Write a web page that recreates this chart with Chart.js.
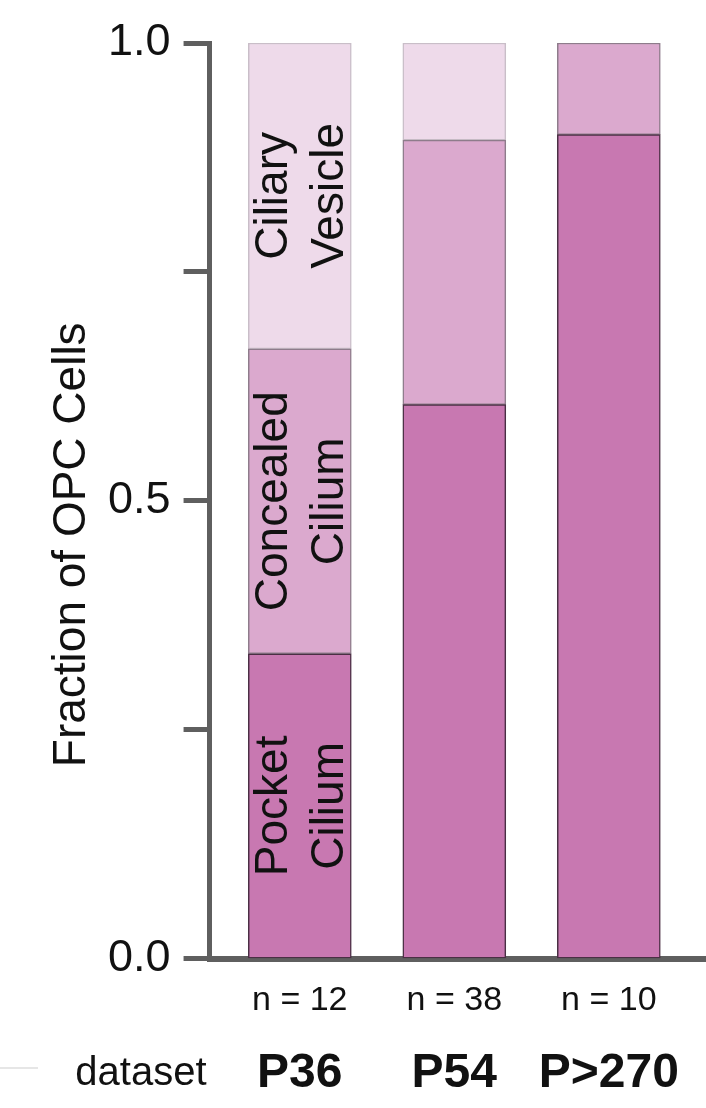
<!DOCTYPE html>
<html lang="en">
  <head>
    <meta charset="UTF-8" />
    <meta name="viewport" content="width=device-width, initial-scale=1.0" />
    <script src="https://cdn.jsdelivr.net/npm/chart.js@4.4.1/dist/chart.umd.min.js"></script>
    <title>Fraction of OPC Cells</title>
    <style>
      body {
        margin: 0;
        background: #fff;
      }
      .canvas-container {
        position: relative;
        width: 706px;
        height: 1108px;
      }
      .stub {
        position: absolute;
        left: 0;
        top: 1067px;
        width: 38px;
        border-top: 2px solid #e6e6e6;
      }
    </style>
  </head>
  <body>
    <div class="canvas-container">
      <canvas id="myChart"></canvas>
      <div class="stub"></div>
    </div>

    <script>
      // values (fraction of cells per age)
      const groups = ["P36", "P54", "P>270"];
      const counts = ["n = 12", "n = 38", "n = 10"];
      const pocket = [0.333, 0.605, 0.9];
      const concealed = [0.333, 0.289, 0.1];
      const vesicle = [0.334, 0.106, 0];
      const yTickLabels = { 0: "0.0", 0.5: "0.5", 1: "1.0" };
      const yTitle = "Fraction of OPC Cells";
      const segmentNames = [
        ["Pocket", "Cilium"],
        ["Concealed", "Cilium"],
        ["Ciliary", "Vesicle"],
      ];

      const FONT = "'Liberation Sans', Arial, Helvetica, sans-serif";
      const AXIS = "#5f5f5f";
      Chart.defaults.font.family = FONT;
      Chart.defaults.color = "#111";

      function points(values) {
        return values.map((v, i) => ({ x: i, y: v }));
      }

      // one tick per group, at its index
      function groupTicks(scale) {
        scale.ticks = groups.map((g, i) => ({ value: i }));
      }

      // rotated names inside the first bar
      const segmentText = {
        id: "segmentText",
        afterDatasetsDraw(chart) {
          const ctx = chart.ctx;
          segmentNames.forEach((lines, d) => {
            const bar = chart.getDatasetMeta(d).data[0];
            ctx.save();
            ctx.translate(bar.x, (bar.y + bar.base) / 2);
            ctx.rotate(-Math.PI / 2);
            ctx.font = "46px " + FONT;
            ctx.fillStyle = "#111";
            ctx.textAlign = "center";
            ctx.textBaseline = "middle";
            ctx.fillText(lines[0], 0, -25);
            ctx.fillText(lines[1], 0, 31);
            ctx.restore();
          });
        },
      };

      // y title (sits a little below the middle in the original) and the
      // "dataset" caption left of the group names
      const captions = {
        id: "captions",
        afterDraw(chart) {
          const ctx = chart.ctx;
          const area = chart.chartArea;
          ctx.save();
          ctx.fillStyle = "#111";
          ctx.textBaseline = "middle";

          ctx.save();
          ctx.translate(72, (area.top + area.bottom) / 2 + 44);
          ctx.rotate(-Math.PI / 2);
          ctx.font = "46px " + FONT;
          ctx.textAlign = "center";
          ctx.fillText(yTitle, 0, 0);
          ctx.restore();

          const s = chart.scales.x2;
          const y = s.top + s.options.ticks.padding + (48 * 1.2) / 2;
          ctx.font = "40px " + FONT;
          ctx.textAlign = "right";
          ctx.fillText("dataset", area.left - 3, y);
          ctx.restore();
        },
      };

      const common = {
        barThickness: 103,
        borderWidth: 1.5,
        borderSkipped: false,
      };

      const ctx = document.getElementById("myChart").getContext("2d");
      const myChart = new Chart(ctx, {
        type: "bar",
        data: {
          datasets: [
            {
              label: "Pocket Cilium",
              data: points(pocket),
              backgroundColor: "#c878b1",
              borderColor: "#4a2f44",
              ...common,
            },
            {
              label: "Concealed Cilium",
              data: points(concealed),
              backgroundColor: "#dba9ce",
              borderColor: "#8e7c8b",
              ...common,
            },
            {
              label: "Ciliary Vesicle",
              data: points(vesicle),
              backgroundColor: "#eedaea",
              borderColor: "#c9bec8",
              ...common,
            },
          ],
        },
        options: {
          responsive: true,
          maintainAspectRatio: false,
          animation: false,
          layout: { padding: { top: 43, right: 0, bottom: 3, left: 95 } },
          plugins: {
            legend: { display: false },
            tooltip: { enabled: false },
          },
          scales: {
            x: {
              type: "linear",
              position: "bottom",
              weight: 0,
              stacked: true,
              bounds: "data",
              offset: false,
              min: -0.584,
              max: 2.629,
              afterBuildTicks: groupTicks,
              grid: { display: false, drawTicks: false },
              border: { display: true, color: AXIS, width: 6 },
              ticks: {
                autoSkip: false,
                maxRotation: 0,
                padding: 22,
                font: { size: 34 },
                callback: (v) => counts[v] ?? "",
              },
            },
            x2: {
              type: "linear",
              position: "bottom",
              weight: 1,
              bounds: "data",
              offset: false,
              min: -0.584,
              max: 2.629,
              afterBuildTicks: groupTicks,
              grid: { display: false, drawTicks: false },
              border: { display: false },
              ticks: {
                autoSkip: false,
                maxRotation: 0,
                padding: 2,
                font: { size: 48, weight: "bold" },
                callback: (v) => groups[v] ?? "",
              },
            },
            y: {
              stacked: true,
              min: 0,
              max: 1,
              border: { display: true, color: AXIS, width: 5 },
              grid: {
                drawOnChartArea: false,
                drawTicks: true,
                tickLength: 26,
                tickWidth: 5,
                tickColor: AXIS,
              },
              ticks: {
                stepSize: 0.25,
                padding: 13,
                font: { size: 45 },
                callback: (v) => yTickLabels[v] ?? "",
              },
            },
          },
        },
        plugins: [segmentText, captions],
      });
    </script>
  </body>
</html>
